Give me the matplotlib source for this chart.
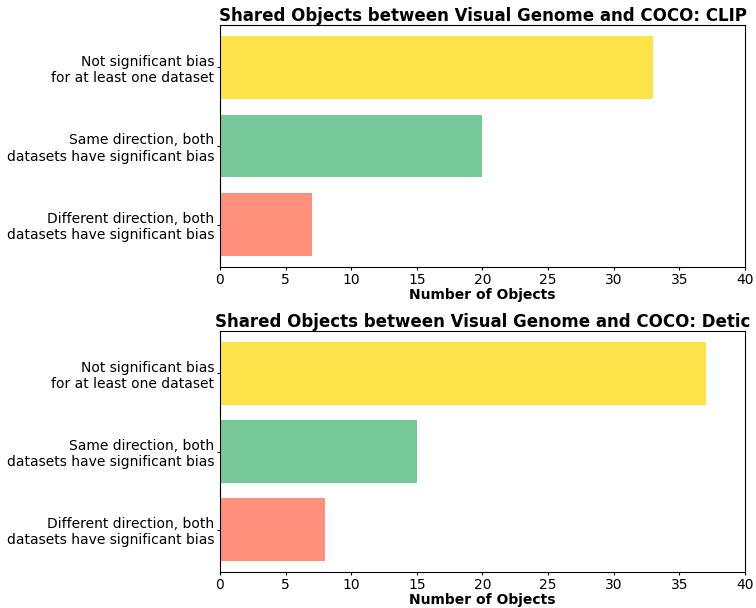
import numpy as np
from matplotlib import pyplot as plt

categories = ["Not significant bias\nfor at least one dataset",
              "Same direction, both\ndatasets have significant bias",
              "Different direction, both\ndatasets have significant bias"]
clip_counts = [33, 20, 7]
detic_counts = [37, 15, 8]
colors = ["#ffe34b", "#77c99a", "#ff917c"]
titles = ["Shared Objects between Visual Genome and COCO: CLIP",
          "Shared Objects between Visual Genome and COCO: Detic"]

fig = plt.figure(figsize=(7.56, 6.08), dpi=100)
ax1 = fig.add_axes([220/756, 1-267/608, 525/756, 242/608])
ax2 = fig.add_axes([220/756, 1-572/608, 525/756, 241/608])

for ax, counts, title in zip([ax1, ax2], [clip_counts, detic_counts], titles):
    y = np.arange(len(categories))
    ax.barh(y, counts, height=0.8, color=colors)
    ax.set_yticks(y)
    ax.set_yticklabels(categories, fontsize=10)
    ax.invert_yaxis()
    ax.set_xlim(0, 40)
    ax.set_xticks(np.arange(0, 41, 5))
    ax.tick_params(axis='x', labelsize=10, pad=2, length=2)
    ax.tick_params(axis='y', pad=2, length=2)
    ax.set_xlabel("Number of Objects", fontsize=10, fontweight='bold', labelpad=1)
    ax.set_title(title, fontsize=12, fontweight='bold', pad=2)

fig.savefig("out.png", dpi=100)
